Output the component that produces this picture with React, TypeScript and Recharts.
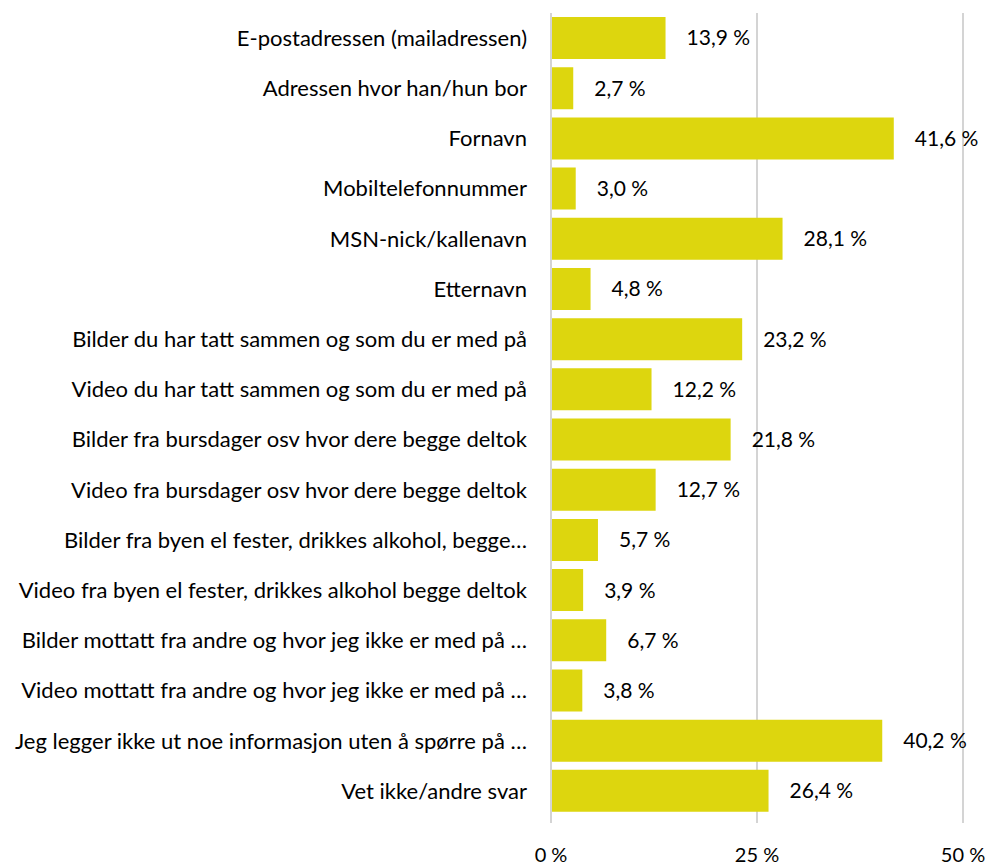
import { BarChart, Bar, XAxis, YAxis, CartesianGrid, LabelList } from "recharts"

const categories = [
  "E-postadressen (mailadressen)",
  "Adressen hvor han/hun bor",
  "Fornavn",
  "Mobiltelefonnummer",
  "MSN-nick/kallenavn",
  "Etternavn",
  "Bilder du har tatt sammen og som du er med på",
  "Video du har tatt sammen og som du er med på",
  "Bilder fra bursdager osv hvor dere begge deltok",
  "Video fra bursdager osv hvor dere begge deltok",
  "Bilder fra byen el fester, drikkes alkohol, begge…",
  "Video fra byen el fester, drikkes alkohol begge deltok",
  "Bilder mottatt fra andre og hvor jeg ikke er med på …",
  "Video mottatt fra andre og hvor jeg ikke er med på …",
  "Jeg legger ikke ut noe informasjon uten å spørre på …",
  "Vet ikke/andre svar",
]

const values = [13.9, 2.7, 41.6, 3.0, 28.1, 4.8, 23.2, 12.2, 21.8, 12.7, 5.7, 3.9, 6.7, 3.8, 40.2, 26.4]

const xTicks = [0, 25, 50]

const data = categories.map((name, i) => ({ name, value: values[i] }))

const FONT = "Lato, 'Open Sans', sans-serif"
const fmt = (v: number) => `${v.toFixed(1).replace(".", ",")} %`

export default function App() {
  return (
    <div style={{ position: "absolute", left: 0, top: 0, background: "#fff" }}>
      <BarChart
        width={989}
        height={866}
        data={data}
        layout="vertical"
        margin={{ top: 13, right: 26, bottom: 0, left: 0 }}
        barCategoryGap="8%"
      >
        <CartesianGrid horizontal={false} stroke="#d4d4d4" strokeWidth={2} />
        <XAxis
          type="number"
          domain={[0, 50]}
          ticks={xTicks}
          height={50}
          axisLine={false}
          tickLine={{ stroke: "#d4d4d4", strokeWidth: 2 }}
          tickSize={7}
          tickMargin={25}
          tickFormatter={(v: number) => `${v} %`}
          tick={{ fontSize: 20, fontFamily: FONT, fill: "#000" }}
        />
        <YAxis
          type="category"
          dataKey="name"
          width={551}
          interval={0}
          axisLine={{ stroke: "#d4d4d4", strokeWidth: 2 }}
          tickLine={false}
          tickSize={0}
          tickMargin={24}
          tick={{ fontSize: 22, fontFamily: FONT, fill: "#000" }}
        />
        <Bar dataKey="value" fill="#DDD60E" isAnimationActive={false}>
          <LabelList
            dataKey="value"
            position="right"
            offset={21}
            formatter={(v: any) => fmt(Number(v))}
            style={{ fontSize: 21, fontFamily: FONT, fill: "#000" }}
          />
        </Bar>
      </BarChart>
    </div>
  )
}
